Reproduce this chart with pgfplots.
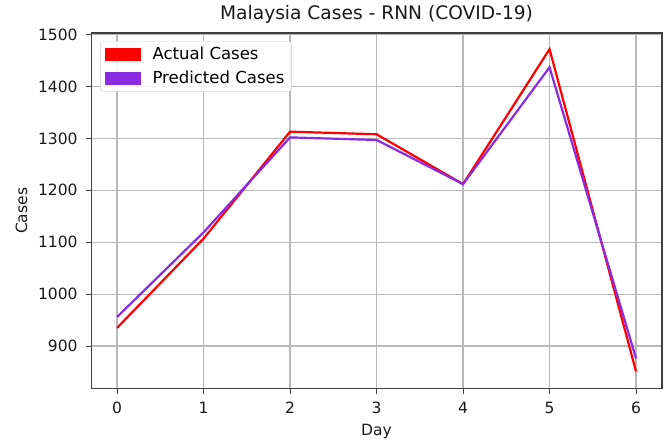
\documentclass[border=0pt]{standalone}
\usepackage{fontspec}
\setmainfont{DejaVu Sans}
\usepackage{pgfplots}
\pgfplotsset{compat=1.18}
\definecolor{actual}{RGB}{255,0,0}
\definecolor{pred}{RGB}{138,43,226}

\begin{document}
\begin{tikzpicture}
\begin{axis}[
    scale only axis,
    width=570bp, height=355bp,
    xmin=-0.3, xmax=6.3,
    ymin=818, ymax=1503,
    xtick={0,1,2,3,4,5,6},
    ytick={900,1000,1100,1200,1300,1400,1500},
    /pgf/number format/assume math mode=true,
    /pgf/number format/1000 sep={},
    tick label style={font=\fontsize{15.5bp}{18bp}\selectfont, color=black!90},
    label style={font=\fontsize{15.5bp}{18bp}\selectfont, color=black!90},
    title style={font=\fontsize{18.6bp}{21bp}\selectfont, color=black!90},
    title={Malaysia Cases - RNN (COVID-19)},
    xlabel={Day}, ylabel={Cases},
    xticklabel shift=5bp, yticklabel shift=5bp,
    xlabel shift=3bp, ylabel shift=4bp,
    grid=major,
    major grid style={line width=1.2bp, color=black!28},
    axis line style={line width=1.2bp, color=black!75},
    tick style={line width=1bp, color=black!75},
    tick align=outside, major tick length=5bp,
    xtick pos=bottom, ytick pos=left,
    legend style={at={(0,1)}, anchor=north west, xshift=9bp, yshift=-8bp,
        draw=black!18, rounded corners=3bp, fill=white, fill opacity=0.85, text opacity=1,
        font=\fontsize{16.5bp}{19bp}\selectfont, inner xsep=5bp, inner ysep=4bp,
        row sep=6bp},
    legend cell align=left,
    legend image code/.code={
        \fill[#1,draw=none,sharp corners,fill opacity=1] (0bp,-6.5bp) rectangle (36bp,6.5bp);
        \path (44bp,0bp);},
]
\addplot[actual, line width=2.2bp] coordinates {
    (0,935) (1,1107) (2,1313) (3,1308) (4,1212) (5,1472) (6,851)
};
\addlegendentry{Actual Cases}
\addplot[pred, line width=2.2bp] coordinates {
    (0,956) (1,1119) (2,1302) (3,1297) (4,1212) (5,1437) (6,876)
};
\addlegendentry{Predicted Cases}
\end{axis}
\pgfresetboundingbox
\path (current axis.south west) ++(-91bp,-53bp) (current axis.north east) ++(8bp,33bp);
\end{tikzpicture}
\end{document}
